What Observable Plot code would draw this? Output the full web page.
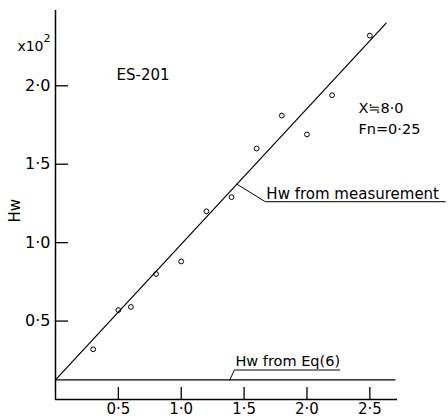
<!DOCTYPE html>
<html><head><meta charset="utf-8">
<script src="https://cdn.jsdelivr.net/npm/d3@7"></script>
<script src="https://cdn.jsdelivr.net/npm/@observablehq/plot@0.6"></script>
<style>body{margin:0;background:#fff}</style>
</head><body><div id="chart"></div>
<script>
// measured points
const froudeX = [0.3, 0.5, 0.6, 0.8, 1.0, 1.2, 1.4, 1.6, 1.8, 2.0, 2.2, 2.5];
const hwMeasured = [0.32, 0.57, 0.59, 0.80, 0.88, 1.20, 1.29, 1.60, 1.81, 1.69, 1.94, 2.32];
// fitted line "Hw from measurement" (end points)
const fitX = [0, 2.63];
const fitY = [0.125, 2.40];
// "Hw from Eq(6)" (constant)
const eqX = [0, 2.70];
const eqY = [0.125, 0.125];
// ticks
const xTicks = [0.5, 1.0, 1.5, 2.0, 2.5];
const xTickLabels = ["0·5", "1·0", "1·5", "2·0", "2·5"];
const yTicks = [0.5, 1.0, 1.5, 2.0];
const yTickLabels = ["0·5", "1·0", "1·5", "2·0"];

const font = "DejaVu Sans";
const fitLine = fitX.map((x, i) => ({x, y: fitY[i]}));
const eqLine = eqX.map((x, i) => ({x, y: eqY[i]}));
const pts = froudeX.map((x, i) => ({x, y: hwMeasured[i]}));
const leaderMeas = [{x: 1.444, y: 1.372}, {x: 1.669, y: 1.261}, {x: 3.10, y: 1.261}];
const leaderEq = [{x: 1.386, y: 0.125}, {x: 1.423, y: 0.188}, {x: 2.26, y: 0.188}];

const chart = Plot.plot({
  width: 448,
  height: 420,
  marginLeft: 55,
  marginRight: 51,
  marginTop: 10,
  marginBottom: 21,
  style: {fontFamily: font, fontSize: "14px", background: "#fff", color: "#000"},
  x: {domain: [0, 2.72], axis: null},
  y: {domain: [0, 2.48], axis: null},
  marks: [
    Plot.ruleX([0], {y1: 0, y2: 2.48, stroke: "#000", strokeWidth: 1.5}),
    Plot.ruleY([0], {x1: 0, x2: 2.72, stroke: "#000", strokeWidth: 1.5}),
    Plot.ruleY(yTicks, {y: d => d, x1: 0, x2: 0.103, stroke: "#000", strokeWidth: 1.3}),
    Plot.axisY(yTicks, {anchor: "left", tickSize: 0, tickPadding: 5, tickFormat: (d, i) => yTickLabels[i], fontSize: 16, label: null}),
    Plot.ruleX(xTicks, {x: d => d, y1: 0, y2: 0.076, stroke: "#000", strokeWidth: 1.3}),
    Plot.axisX(xTicks, {anchor: "bottom", tickSize: 0, tickPadding: 4, tickFormat: (d, i) => xTickLabels[i], fontSize: 15, label: null}),
    Plot.line(fitLine, {x: "x", y: "y", stroke: "#000", strokeWidth: 1.2}),
    Plot.line(eqLine, {x: "x", y: "y", stroke: "#000", strokeWidth: 1.2}),
    Plot.dot(pts, {x: "x", y: "y", r: 2.4, stroke: "#000", strokeWidth: 1, fill: "none"}),
    Plot.line(leaderMeas, {x: "x", y: "y", stroke: "#000", strokeWidth: 1}),
    Plot.line(leaderEq, {x: "x", y: "y", stroke: "#000", strokeWidth: 1}),
    Plot.text(["Hw from measurement"], {x: 1.677, y: 1.312, text: d => d, textAnchor: "start", lineAnchor: "middle", fontSize: 15, letterSpacing: 0.3}),
    Plot.text(["Hw from Eq(6)"], {x: 1.431, y: 0.242, text: d => d, textAnchor: "start", lineAnchor: "middle", fontSize: 14.5}),
    Plot.text(["ES-201"], {x: 0.485, y: 2.07, text: d => d, textAnchor: "start", lineAnchor: "middle", fontSize: 15, letterSpacing: 0.8}),
    Plot.text(["X≒8·0"], {x: 2.409, y: 1.853, text: d => d, textAnchor: "start", lineAnchor: "middle", fontSize: 14.5}),
    Plot.text(["Fn=0·25"], {x: 2.409, y: 1.72, text: d => d, textAnchor: "start", lineAnchor: "middle", fontSize: 14.5}),
    Plot.text(["x10"], {x: 0, y: 2.25, text: d => d, textAnchor: "end", lineAnchor: "middle", dx: -12, fontSize: 14}),
    Plot.text(["2"], {x: 0, y: 2.25, text: d => d, textAnchor: "start", lineAnchor: "middle", dx: -12, dy: -8, fontSize: 11}),
    Plot.text(["Hw"], {x: 0, y: 1.204, text: d => d, rotate: -90, lineAnchor: "middle", dx: -40, fontSize: 15})
  ]
});
document.getElementById("chart").appendChild(chart);
</script>
</body></html>
